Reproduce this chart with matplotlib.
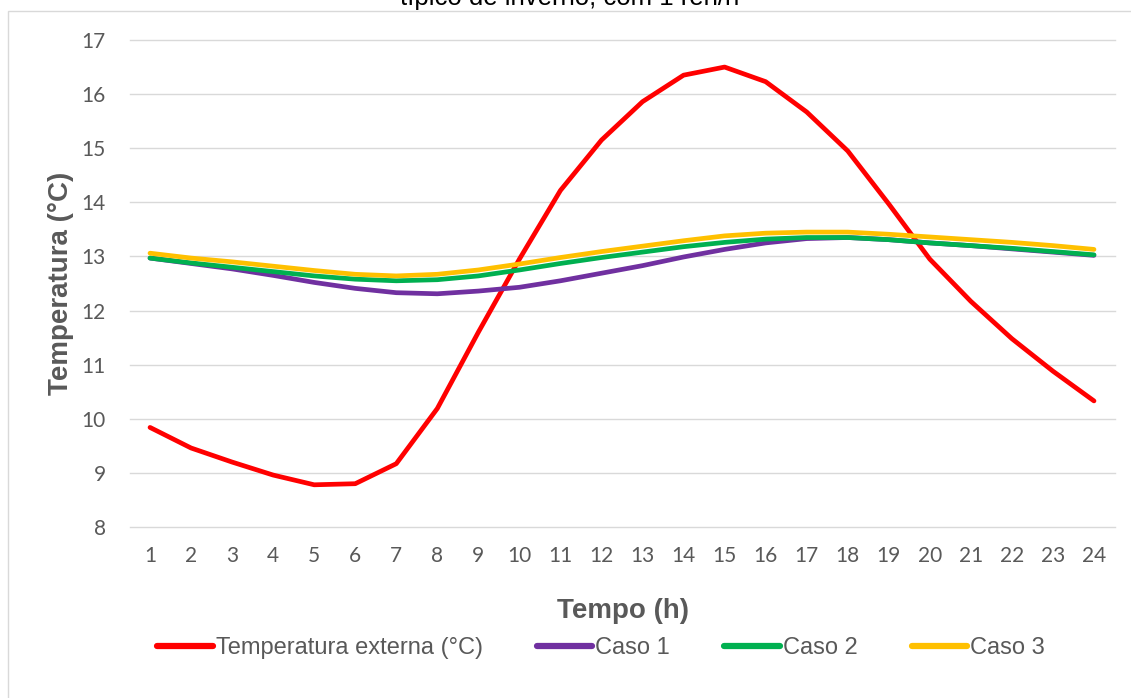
import matplotlib
matplotlib.use("Agg")
import matplotlib.pyplot as plt
from matplotlib.patches import Rectangle

hours = list(range(1, 25))
t_ext = [9.84, 9.46, 9.20, 8.96, 8.78, 8.80, 9.17, 10.19, 11.60, 12.95, 14.22, 15.15,
         15.86, 16.35, 16.50, 16.23, 15.67, 14.95, 13.97, 12.95, 12.17, 11.48, 10.88, 10.33]
caso1 = [12.97, 12.87, 12.77, 12.65, 12.52, 12.41, 12.33, 12.31, 12.36, 12.43, 12.55, 12.69,
         12.83, 12.99, 13.13, 13.25, 13.33, 13.35, 13.31, 13.25, 13.20, 13.14, 13.08, 13.02]
caso2 = [12.97, 12.88, 12.80, 12.72, 12.64, 12.58, 12.55, 12.57, 12.64, 12.75, 12.87, 12.98,
         13.08, 13.18, 13.26, 13.32, 13.35, 13.35, 13.31, 13.25, 13.20, 13.15, 13.09, 13.03]
caso3 = [13.06, 12.97, 12.90, 12.82, 12.74, 12.67, 12.64, 12.67, 12.75, 12.86, 12.98, 13.09,
         13.19, 13.29, 13.38, 13.43, 13.45, 13.45, 13.41, 13.36, 13.31, 13.26, 13.20, 13.13]
y_ticks = list(range(8, 18))

series = [
    ("Temperatura externa (°C)", t_ext, "#FF0000"),
    ("Caso 1", caso1, "#7030A0"),
    ("Caso 2", caso2, "#00B050"),
    ("Caso 3", caso3, "#FFC000"),
]

W, H = 1131, 698
fig = plt.figure(figsize=(W / 100, H / 100), dpi=100)
fig.patch.set_facecolor("white")

# chart border
fig.patches.append(Rectangle((8 / W, -0.05), 1.1, (H - 11) / H + 0.05,
                             transform=fig.transFigure, fill=False,
                             edgecolor="#D9D9D9", linewidth=1.0))

ax = fig.add_axes([129.5 / W, (H - 527) / H, (1114.5 - 129.5) / W, (527 - 40) / H])

for name, vals, col in series:
    ax.plot(hours, vals, color=col, linewidth=3.4, label=name,
            solid_capstyle="round", solid_joinstyle="round")

ax.set_xlim(0.5, 24.5)
ax.set_ylim(8, 17)
ax.set_yticks(y_ticks)
ax.set_xticks(hours)
ax.grid(axis="y", color="#D9D9D9", linewidth=1.0)
for gl in ax.get_ygridlines():
    gl.set_clip_on(False)
ax.set_axisbelow(True)
for s in ax.spines.values():
    s.set_visible(False)
ax.tick_params(axis="both", length=0, labelsize=15, labelcolor="#595959")
ax.tick_params(axis="y", pad=17)
ax.tick_params(axis="x", pad=14)
for lab in ax.get_xticklabels() + ax.get_yticklabels():
    lab.set_fontfamily("Lato")

fig.text(61 / W, (H - 283) / H, "Temperatura (°C)", rotation=90, ha="center", va="center",
         fontsize=20, fontweight="bold", color="#595959", family="Liberation Sans")
fig.text(623 / W, (H - 611) / H, "Tempo (h)", ha="center", va="center",
         fontsize=20, fontweight="bold", color="#595959", family="Liberation Sans")

fig.text(570 / W, (H - 5) / H, "típico de inverno, com 1 ren/h", ha="center", va="baseline",
         fontsize=18.5, color="#000000", family="Liberation Sans")

leg = fig.legend(loc="center", bbox_to_anchor=(601 / W, (H - 648) / H), ncol=4,
                 frameon=False, handlelength=2.35, handletextpad=0.12, columnspacing=2.3,
                 prop={"family": "Liberation Sans", "size": 17})
for t in leg.get_texts():
    t.set_color("#595959")
for h in leg.get_lines():
    h.set_linewidth(4.5)

fig.savefig("out.png", dpi=100)
